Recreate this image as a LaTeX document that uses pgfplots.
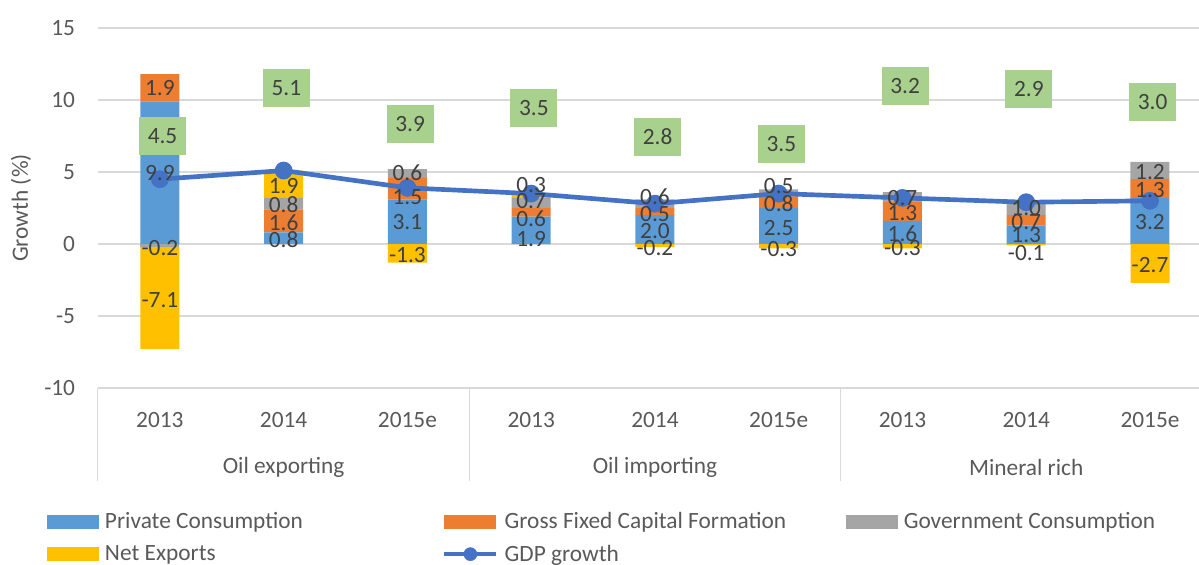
\documentclass[border=0pt]{standalone}
\usepackage{pgfplots}
\pgfplotsset{compat=1.18}
\usepackage{pgfplotstable}
\usepackage{fontspec}
\setmainfont{Carlito}
\definecolor{cPC}{HTML}{5B9BD5}
\definecolor{cGF}{HTML}{ED7D31}
\definecolor{cGV}{HTML}{A5A5A5}
\definecolor{cNX}{HTML}{FFC000}
\definecolor{cGDP}{HTML}{4472C4}
\definecolor{cLab}{HTML}{A9D18E}
\definecolor{cTxt}{HTML}{404040}
\definecolor{cTick}{HTML}{595959}
\definecolor{cGrid}{HTML}{D9D9D9}
\newcommand\fsz{\fontsize{17.5}{21}\selectfont}

% positive contributions (stack upward)
\pgfplotstableread{
x pc  gf  gv  nx
0 9.9 1.9 0   0
1 0.8 1.6 0.8 1.9
2 3.1 1.5 0.6 0
3 1.9 0.6 0.7 0.3
4 2.0 0.5 0.6 0
5 2.5 0.8 0.5 0
6 1.6 1.3 0.7 0
7 1.3 0.7 1.0 0
8 3.2 1.3 1.2 0
}\pos
% negative contributions (stack downward)
\pgfplotstableread{
x gv   nx
0 -0.2 -7.1
1 0    0
2 0    -1.3
3 0    0
4 0    -0.2
5 0    -0.3
6 0    -0.3
7 0    -0.1
8 0    -2.7
}\neg
% GDP growth and position of its label boxes
\pgfplotstableread{
x gdp ly    lab
0 4.5 7.50  4.5
1 5.1 10.83 5.1
2 3.9 8.33  3.9
3 3.5 9.44  3.5
4 2.8 7.43  2.8
5 3.5 6.94  3.5
6 3.2 10.97 3.2
7 2.9 10.76 2.9
8 3.0 9.86  3.0
}\gdp
% data labels of the bar segments (value and where it is printed)
\pgfplotstableread{
x y     t
0 10.81 1.9
0 4.91  9.9
0 -0.30 -0.2
0 -3.89 -7.1
1 4.03  1.9
1 2.71  0.8
1 1.46  1.6
1 0.28  0.8
2 4.93  0.6
2 3.26  1.5
2 1.53  3.1
2 -0.76 -1.3
3 4.10  0.3
3 3.01  0.7
3 1.74  0.6
3 0.33  1.9
4 3.29  0.6
4 2.06  0.5
4 0.90  2.0
4 -0.30 -0.2
5 4.03  0.5
5 2.82  0.8
5 1.09  2.5
5 -0.35 -0.3
6 3.17  0.7
6 2.13  1.3
6 0.74  1.6
6 -0.30 -0.3
7 2.48  1.0
7 1.55  0.7
7 0.63  1.3
7 -0.65 -0.1
8 5.02  1.2
8 3.75  1.3
8 1.55  3.2
8 -1.46 -2.7
}\labs

\pgfplotsset{
  base/.style={
    scale only axis, width=825.75pt, height=270pt,
    at={(0,0)}, anchor=south west,
    xmin=-0.5, xmax=8.396, ymin=-10, ymax=15,
    clip=false,
  },
}

\begin{document}
\begin{tikzpicture}
\useasboundingbox (-73.5pt,-132pt) rectangle (825.75pt,291pt);
% axis 1: grid, ticks, positive bars, legend
\begin{axis}[base, ybar stacked, bar width=29.25pt,
  axis line style={draw=none}, major tick style={draw=none},
  ymajorgrids, grid style={cGrid, line width=1pt},
  ytick={-10,-5,...,15},
  xtick={0,...,8},
  xticklabels={2013,2014,2015e,2013,2014,2015e,2013,2014,2015e},
  ticklabel style={font=\fsz, text=cTick},
  xticklabel style={anchor=center, yshift=-24pt},
  yticklabel style={anchor=east, inner sep=0pt, xshift=-17pt},
  /pgf/number format/assume math mode=true,
  ylabel={Growth (\%)},
  ylabel style={at={(axis description cs:-0.0699,0.5)}, anchor=center, font=\fsz, text=cTick},
  legend columns=3, legend cell align=left,
  legend style={draw=none, fill=none, at={(axis description cs:-0.04632,-0.339)}, anchor=north west,
    inner sep=0pt, outer sep=0pt, row sep=6.6pt, column sep=0pt, font=\fsz, text=cTick,
    /tikz/every odd column/.append style={column sep=2.5pt}},
  legend image code/.code={\fill[#1] (0pt,-5.25pt) rectangle (39pt,5.25pt);},
]
\addplot[fill=cPC, draw=none] table[x=x, y=pc] {\pos};
\addlegendentry{\makebox[250.8pt][l]{Private Consumption}}
\addplot[fill=cGF, draw=none] table[x=x, y=gf] {\pos};
\addlegendentry{\makebox[253.8pt][l]{Gross Fixed Capital Formation}}
\addplot[fill=cGV, draw=none] table[x=x, y=gv] {\pos};
\addlegendentry{Government Consumption}
\addplot[fill=cNX, draw=none] table[x=x, y=nx] {\pos};
\addlegendentry{\makebox[250.8pt][l]{Net Exports}}
\addlegendimage{legend image code/.code={%
  \draw[cGDP, line width=3.5pt] (0pt,0pt) -- (39pt,0pt);
  \fill[cGDP] (19.5pt,0pt) circle[radius=4.9pt];}}
\addlegendentry{GDP growth}
\draw[cGrid, line width=0.75pt] (axis cs:-0.5,-10) -- ++(0pt,-69.75pt);
\draw[cGrid, line width=0.75pt] (axis cs:2.5,-10) -- ++(0pt,-69.75pt);
\draw[cGrid, line width=0.75pt] (axis cs:5.5,-10) -- ++(0pt,-69.75pt);
\node[font=\fsz, text=cTick, yshift=-59.25pt] at (axis cs:1,-10) {Oil exporting};
\node[font=\fsz, text=cTick, yshift=-59.25pt] at (axis cs:4,-10) {Oil importing};
\node[font=\fsz, text=cTick, yshift=-59.25pt] at (axis cs:7,-10) {Mineral rich};
\end{axis}
% axis 2: negative bars
\begin{axis}[base, hide axis, ybar stacked, bar width=29.25pt]
\addplot[fill=cGV, draw=none] table[x=x, y=gv] {\neg};
\addplot[fill=cNX, draw=none] table[x=x, y=nx] {\neg};
\end{axis}
% axis 3: GDP line, its label boxes, and the segment labels
\begin{axis}[base, hide axis]
\addplot[cGDP, line width=3.5pt, mark=*, mark size=4.9pt] table[x=x, y=gdp] {\gdp};
\addplot[draw=none, mark=none, nodes near coords, point meta=explicit symbolic,
  every node near coord/.append style={anchor=center, fill=cLab, text=cTxt, font=\fsz,
    minimum width=35.25pt, minimum height=28.5pt, inner sep=0pt, xshift=2pt}]
  table[x=x, y=ly, meta=lab] {\gdp};
\addplot[draw=none, mark=none, nodes near coords, point meta=explicit symbolic,
  every node near coord/.append style={anchor=center, text=cTxt, font=\fsz, inner sep=0pt}]
  table[x=x, y=y, meta=t] {\labs};
\end{axis}
\end{tikzpicture}
\end{document}
